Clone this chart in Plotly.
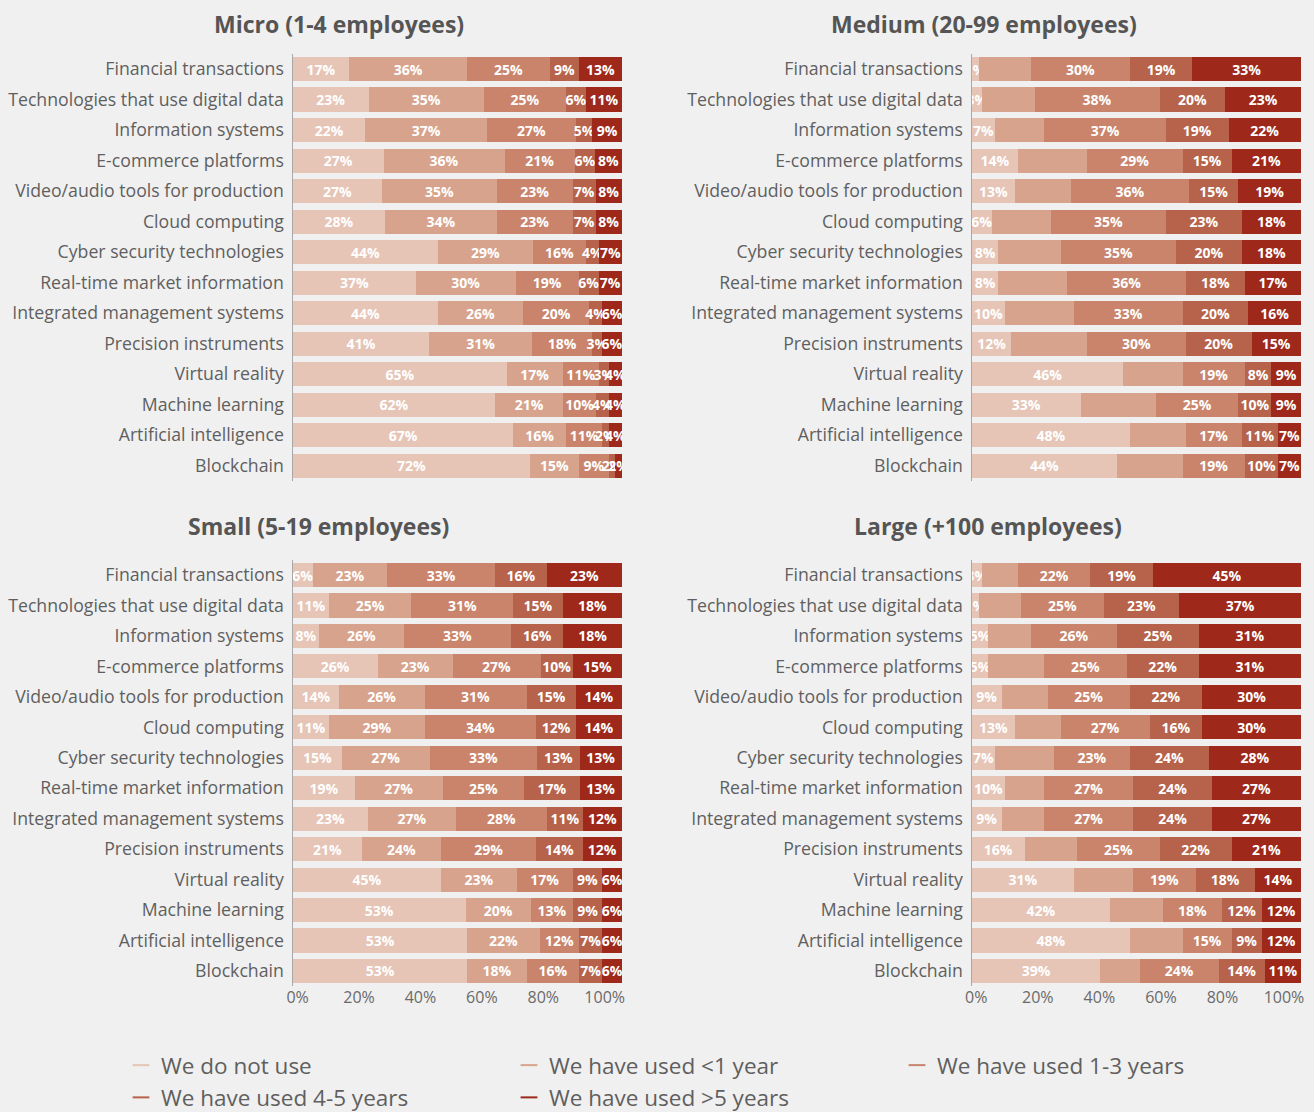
import plotly.graph_objects as go

categories = [
    "Financial transactions",
    "Technologies that use digital data",
    "Information systems",
    "E-commerce platforms",
    "Video/audio tools for production",
    "Cloud computing",
    "Cyber security technologies",
    "Real-time market information",
    "Integrated management systems",
    "Precision instruments",
    "Virtual reality",
    "Machine learning",
    "Artificial intelligence",
    "Blockchain",
]

series_names = [
    "We do not use",
    "We have used <1 year",
    "We have used 1-3 years",
    "We have used 4-5 years",
    "We have used >5 years",
]

# Micro (1-4 employees)
micro_not_use = [17, 23, 22, 27, 27, 28, 44, 37, 44, 41, 65, 62, 67, 72]
micro_lt1 = [36, 35, 37, 36, 35, 34, 29, 30, 26, 31, 17, 21, 16, 15]
micro_1_3 = [25, 25, 27, 21, 23, 23, 16, 19, 20, 18, 11, 10, 11, 9]
micro_4_5 = [9, 6, 5, 6, 7, 7, 4, 6, 4, 3, 3, 4, 2, 2]
micro_gt5 = [13, 11, 9, 8, 8, 8, 7, 7, 6, 6, 4, 4, 4, 2]

# Medium (20-99 employees); "<1 year" is unlabeled in the source
medium_not_use = [2, 3, 7, 14, 13, 6, 8, 8, 10, 12, 46, 33, 48, 44]
medium_lt1 = [16, 16, 15, 21, 17, 18, 19, 21, 21, 23, 18, 23, 17, 20]
medium_1_3 = [30, 38, 37, 29, 36, 35, 35, 36, 33, 30, 19, 25, 17, 19]
medium_4_5 = [19, 20, 19, 15, 15, 23, 20, 18, 20, 20, 8, 10, 11, 10]
medium_gt5 = [33, 23, 22, 21, 19, 18, 18, 17, 16, 15, 9, 9, 7, 7]

# Small (5-19 employees)
small_not_use = [6, 11, 8, 26, 14, 11, 15, 19, 23, 21, 45, 53, 53, 53]
small_lt1 = [23, 25, 26, 23, 26, 29, 27, 27, 27, 24, 23, 20, 22, 18]
small_1_3 = [33, 31, 33, 27, 31, 34, 33, 25, 28, 29, 17, 13, 12, 16]
small_4_5 = [16, 15, 16, 10, 15, 12, 13, 17, 11, 14, 9, 9, 7, 7]
small_gt5 = [23, 18, 18, 15, 14, 14, 13, 13, 12, 12, 6, 6, 6, 6]

# Large (+100 employees); "<1 year" is unlabeled in the source
large_not_use = [3, 2, 5, 5, 9, 13, 7, 10, 9, 16, 31, 42, 48, 39]
large_lt1 = [11, 13, 13, 17, 14, 14, 18, 12, 13, 16, 18, 16, 16, 12]
large_1_3 = [22, 25, 26, 25, 25, 27, 23, 27, 27, 25, 19, 18, 15, 24]
large_4_5 = [19, 23, 25, 22, 22, 16, 24, 24, 24, 22, 18, 12, 9, 14]
large_gt5 = [45, 37, 31, 31, 30, 30, 28, 27, 27, 21, 14, 12, 12, 11]

tick_vals = [0, 20, 40, 60, 80, 100]
tick_text = ["0%", "20%", "40%", "60%", "80%", "100%"]

panels = [
    ("Micro (1-4 employees)", [micro_not_use, micro_lt1, micro_1_3, micro_4_5, micro_gt5], True),
    ("Medium (20-99 employees)", [medium_not_use, medium_lt1, medium_1_3, medium_4_5, medium_gt5], False),
    ("Small (5-19 employees)", [small_not_use, small_lt1, small_1_3, small_4_5, small_gt5], True),
    ("Large (+100 employees)", [large_not_use, large_lt1, large_1_3, large_4_5, large_gt5], False),
]

colors = ["#e6c5b7", "#d8a38c", "#c9846b", "#b7624a", "#9e2819"]

FONT = "Open Sans"
TXT = "#5f5f5f"
BG = "#f0f0f0"
W, H = 1314, 1112

fig = go.Figure()

for p, (title, series, label_lt1) in enumerate(panels, start=1):
    ax = "" if p == 1 else str(p)
    for k, vals in enumerate(series):
        if k == 1 and not label_lt1:
            texts = ["" for _ in vals]
        else:
            texts = [f"{v}%" for v in vals]
        fig.add_trace(go.Bar(
            y=categories, x=vals, orientation="h",
            name=series_names[k],
            marker=dict(color=colors[k], line=dict(width=0)),
            text=texts, textposition="inside", insidetextanchor="middle",
            constraintext="none", textangle=0,
            textfont=dict(color="white", size=14, family=FONT, weight="bold"),
            showlegend=False, hoverinfo="x+y",
            xaxis="x" + ax, yaxis="y" + ax,
        ))

# legend entries (short line markers)
for k, name in enumerate(series_names):
    fig.add_trace(go.Scatter(
        x=[None], y=[None], mode="markers", name=name,
        marker=dict(symbol="line-ew", size=14, color=colors[k],
                    line=dict(width=3, color=colors[k])),
        showlegend=True, xaxis="x", yaxis="y",
    ))

# percentage scales under the lower panels (own tick axes, as in the source)
for xa, ya in (("x5", "y3"), ("x6", "y4")):
    fig.add_trace(go.Scatter(x=[None], y=[None], mode="markers", showlegend=False,
                             hoverinfo="skip", xaxis=xa, yaxis=ya))

def py(pix):
    return 1 - pix / H

def px(pix):
    return pix / W

x_left = [px(293), px(622)]
x_right = [px(972), px(1301)]
y_top = [py(481), py(53.75)]
y_bot = [py(986.2), py(559.8)]

domains = {
    1: (x_left, y_top),
    2: (x_right, y_top),
    3: (x_left, y_bot),
    4: (x_right, y_bot),
}

layout = dict(
    width=W, height=H,
    paper_bgcolor=BG, plot_bgcolor="rgba(0,0,0,0)",
    margin=dict(l=0, r=0, t=0, b=0, autoexpand=False),
    barmode="stack", barnorm="percent", bargap=0.21,
    font=dict(family=FONT, color=TXT),
    legend=dict(
        orientation="h", traceorder="normal",
        x=px(121), y=py(1044), xanchor="left", yanchor="top",
        entrywidth=343, entrywidthmode="pixels",
        font=dict(size=22.5, color=TXT, family=FONT),
        bgcolor="rgba(0,0,0,0)", itemsizing="constant",
    ),
    annotations=[],
)

for p, (xd, yd) in domains.items():
    ax = "" if p == 1 else str(p)
    layout["xaxis" + ax] = dict(
        domain=xd, range=[0, 100], anchor="y" + ax,
        showgrid=False, zeroline=False, showline=False,
        showticklabels=False, ticks="",
        fixedrange=True,
    )
    layout["yaxis" + ax] = dict(
        domain=yd, anchor="x" + ax,
        categoryorder="array", categoryarray=categories,
        range=[len(categories) - 0.5, -0.5],
        showgrid=False, zeroline=False,
        showline=True, linecolor="#a8a8a8", linewidth=1,
        ticks="", ticksuffix=" ",
        tickfont=dict(size=17.7, color=TXT, family=FONT),
        fixedrange=True,
    )

for name, anchor, d in (("xaxis5", "y3", [px(297.6), px(604.7)]),
                        ("xaxis6", "y4", [px(976.3), px(1284)])):
    layout[name] = dict(
        domain=d, range=[0, 100], anchor=anchor,
        showgrid=False, zeroline=False, showline=False, ticks="",
        tickvals=tick_vals, ticktext=tick_text,
        tickfont=dict(size=16, color="#6a6a6a", family=FONT),
        fixedrange=True,
    )

title_pos = [(339, 24), (984, 24), (318, 526), (988, 526)]
for (title, _, _), (tx, ty) in zip(panels, title_pos):
    layout["annotations"].append(dict(
        text=f"<b>{title}</b>", x=px(tx), y=py(ty), xref="paper", yref="paper",
        xanchor="center", yanchor="middle", showarrow=False,
        font=dict(size=23, color="#555555", family=FONT),
    ))

fig.update_layout(**layout)

fig.write_html(
    "out.html",
    config={"displayModeBar": False},
    post_script="document.body.style.margin='0';document.body.style.background='#f0f0f0';",
)
